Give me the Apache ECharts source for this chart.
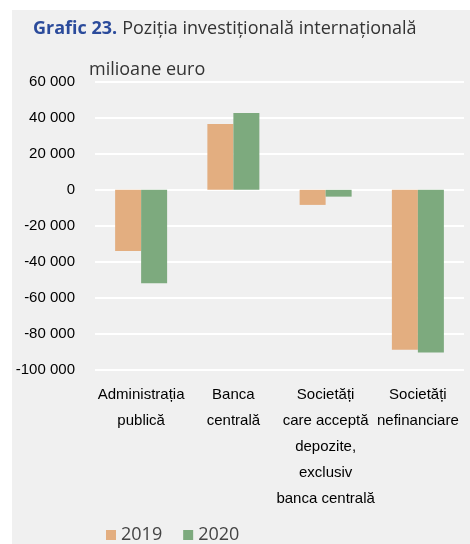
<!DOCTYPE html>
<html><head><meta charset="utf-8">
<script src="https://cdn.jsdelivr.net/npm/echarts@6/dist/echarts.min.js"></script>
<style>html,body{margin:0;padding:0;background:#fff}#c{width:470px;height:544px}</style>
</head><body><div id="c"></div>
<script>
const categories = ["Administrația\npublică", "Banca\ncentrală", "Societăți\ncare acceptă\ndepozite,\nexclusiv\nbanca centrală", "Societăți\nnefinanciare"];
const seriesNames = ["2019", "2020"];
const values2019 = [-34000, 36600, -8400, -89000];
const values2020 = [-52000, 42700, -3800, -90600];
const yMin = -100000, yMax = 60000, yStep = 20000;

const narrow = '"Liberation Sans", Arial, sans-serif';
const sans = '"Open Sans","Noto Sans",sans-serif';
const chart = echarts.init(document.getElementById('c'), null, {renderer:'canvas'});
chart.setOption({
  animation:false,
  backgroundColor:'#ffffff',
  graphic:[
    {type:'rect', z:-10, shape:{x:12,y:10,width:458,height:534}, style:{fill:'#f0f0f0'}},
    {type:'text', left:89, top:61, style:{text:'milioane euro', font:'18px "Open Sans", "Noto Sans", sans-serif', fill:'#333'}}
  ],
  title:{
    left:28, top:15,
    text:'{a|Grafic 23.} {b|Poziția investițională internațională}',
    textStyle:{rich:{
      a:{fontFamily:sans, fontSize:18, fontWeight:'bold', color:'#2b4b9b'},
      b:{fontFamily:sans, fontSize:18, fontWeight:'normal', color:'#333'}
    }}
  },
  legend:{
    left:101, top:521, itemWidth:10, itemHeight:10, itemGap:21,
    icon:'rect',
    textStyle:{fontFamily:sans, fontSize:18, color:'#444'},
    data:seriesNames
  },
  grid:{left:95, right:6, top:82, height:287.5, containLabel:false},
  xAxis:{
    type:'category', data:categories,
    axisLine:{show:false}, axisTick:{show:false},
    axisLabel:{interval:0, margin:12, lineHeight:26, fontFamily:narrow, fontSize:15, color:'#000'}
  },
  yAxis:{
    type:'value', min:yMin, max:yMax, interval:yStep,
    axisLine:{show:false}, axisTick:{show:false},
    splitLine:{lineStyle:{color:'#ffffff', width:2}},
    axisLabel:{margin:20, fontFamily:narrow, fontSize:15, color:'#000',
      formatter:v=>{const s=Math.abs(v).toString().replace(/\B(?=(\d{3})+(?!\d))/g,' ');return (v<0?'-':'')+s;}}
  },
  series:[
    {name:seriesNames[0], type:'bar', data:values2019, barWidth:26, barGap:'0%', itemStyle:{color:'#e3ae80'}},
    {name:seriesNames[1], type:'bar', data:values2020, barWidth:26, barGap:'0%', itemStyle:{color:'#7daa7e'}}
  ]
});
</script></body></html>
